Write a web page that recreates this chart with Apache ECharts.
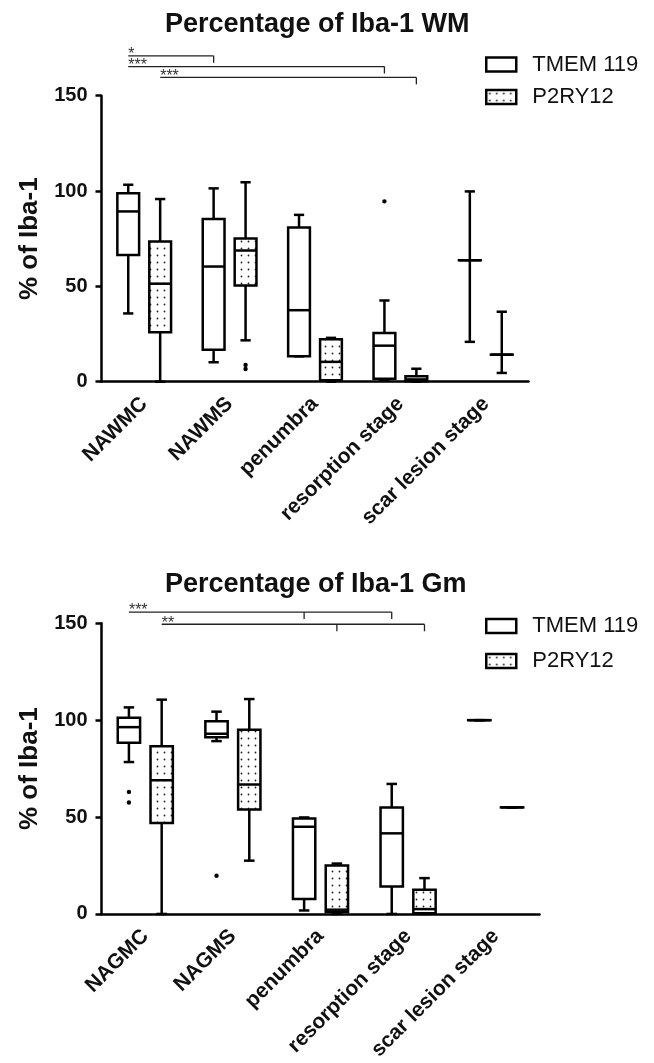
<!DOCTYPE html>
<html><head><meta charset="utf-8">
<script src="https://cdn.jsdelivr.net/npm/echarts@6/dist/echarts.min.js"></script>
<style>html,body{margin:0;padding:0;background:#fff}#c{width:654px;height:1063px}</style>
</head><body><div id="c"></div>
<script>
// ---------------- DATA ----------------
const titles = ['Percentage of Iba-1 WM', 'Percentage of Iba-1 Gm'];
const yAxisName = '% of Iba-1';
const wmCategories = ['NAWMC', 'NAWMS', 'penumbra', 'resorption stage', 'scar lesion stage'];
const gmCategories = ['NAGMC', 'NAGMS', 'penumbra', 'resorption stage', 'scar lesion stage'];
const seriesNames = ['TMEM 119', 'P2RY12'];
const yTicks = [0, 50, 100, 150];

// [category, min, Q1, median, Q3, max]
const wmTMEM = [
  [0, 35.8, 66.5, 89.3, 98.9, 103.3],
  [1, 10.2, 16.8, 60.4, 85.3, 101.4],
  [2, 13.3, 13.3, 37.5, 80.9, 87.5],
  [3, 0.5, 1.6, 18.9, 25.6, 42.6],
  [4, 20.9, 63.7, 63.7, 63.7, 99.8]
];
const wmP2RY12 = [
  [0, 0, 26.0, 51.4, 73.5, 95.8],
  [1, 21.7, 50.5, 68.8, 75.1, 104.6],
  [2, 0, 0.7, 10.4, 22.2, 23.0],
  [3, 0, 0.3, 1.2, 2.8, 6.8],
  [4, 4.6, 14.2, 14.2, 14.2, 36.7]
];
const gmTMEM = [
  [0, 78.4, 88.3, 96.4, 101.3, 106.6],
  [1, 89.2, 91.2, 93.0, 99.4, 104.4],
  [2, 1.8, 7.7, 45.0, 49.3, 49.8],
  [3, 0, 14.2, 41.6, 55.0, 67.1],
  [4, 100, 100, 100, 100, 100]
];
const gmP2RY12 = [
  [0, 0, 47.0, 69.0, 86.6, 110.6],
  [1, 27.5, 53.9, 66.8, 95.0, 110.9],
  [2, 0, 1.0, 2.2, 25.0, 26.0],
  [3, 0, 0.3, 2.5, 12.5, 18.5],
  [4, 55, 55, 55, 55, 55]
];
// outliers [category, value]
const wmOutTMEM = [[3, 94.6]];
const wmOutP2RY12 = [[1, 6.7], [1, 8.8]];
const gmOutTMEM = [[0, 63.0], [0, 57.5], [1, 19.7]];
const gmOutP2RY12 = [];
// significance: [fromCategory, fromSeries, toCategory, toSeries, height, label, midCategory]
const wmSig = [
  [0, 0, 1, 0, 170.9, '*', null],
  [0, 0, 3, 0, 165.3, '***', null],
  [0, 1, 3, 1, 159.6, '***', null]
];
const gmSig = [
  [0, 0, 3, 0, 155.8, '***', 2],
  [0, 1, 3, 1, 149.5, '**', 2]
];

// ---------------- STYLE ----------------
const FONT = 'Liberation Sans, Arial, sans-serif';
const OFFSET = [-0.187, 0.187];
const BOX = 0.255, CAP = 0.12, DROP = 7;

function makePattern() {
  const c = document.createElement('canvas');
  c.width = 7; c.height = 7;
  const g = c.getContext('2d');
  g.fillStyle = '#fff'; g.fillRect(0, 0, 7, 7);
  g.fillStyle = '#222';
  g.beginPath(); g.arc(3.5, 3.5, 0.9, 0, Math.PI * 2); g.fill();
  return { image: c, repeat: 'repeat' };
}
const dots = makePattern();
const fills = ['#fff', dots];

function boxRenderer(k) {
  return function (params, api) {
    const cat = api.value(0);
    const band = api.size([1, 0])[0];
    const cx = api.coord([cat, 0])[0] + OFFSET[k] * band;
    const Y = i => api.coord([cat, api.value(i)])[1];
    const yMin = Y(1), yQ1 = Y(2), yMed = Y(3), yQ3 = Y(4), yMax = Y(5);
    const w = BOX * band, c = CAP * band;
    const ls = { stroke: '#000', lineWidth: 2.5 };
    return { type: 'group', children: [
      { type: 'line', shape: { x1: cx, y1: yQ3, x2: cx, y2: yMax }, style: ls },
      { type: 'line', shape: { x1: cx - c / 2, y1: yMax, x2: cx + c / 2, y2: yMax }, style: ls },
      { type: 'line', shape: { x1: cx, y1: yQ1, x2: cx, y2: yMin }, style: ls },
      { type: 'line', shape: { x1: cx - c / 2, y1: yMin, x2: cx + c / 2, y2: yMin }, style: ls },
      { type: 'rect', shape: { x: cx - w / 2, y: yQ3, width: w, height: Math.max(yQ1 - yQ3, 0.01) },
        style: { fill: fills[k], stroke: '#000', lineWidth: 2.5 } },
      { type: 'line', shape: { x1: cx - w / 2, y1: yMed, x2: cx + w / 2, y2: yMed }, style: ls }
    ]};
  };
}
function outlierRenderer(k) {
  return function (params, api) {
    const band = api.size([1, 0])[0];
    const p = api.coord([api.value(0), api.value(1)]);
    return { type: 'circle', shape: { cx: p[0] + OFFSET[k] * band, cy: p[1], r: 2.2 }, style: { fill: '#000' } };
  };
}
function sigRenderer(sig) {
  return function (params, api) {
    const s = sig[params.dataIndex];
    const band = api.size([1, 0])[0];
    const X = (cat, k) => api.coord([cat, 0])[0] + OFFSET[k] * band;
    const y = api.coord([0, s[4]])[1];
    const x1 = X(s[0], s[1]), x2 = X(s[2], s[3]);
    const ls = { stroke: '#222', lineWidth: 1.3 };
    const children = [
      { type: 'line', shape: { x1: x1, y1: y, x2: x2, y2: y }, style: ls },
      { type: 'line', shape: { x1: x2, y1: y, x2: x2, y2: y + DROP }, style: ls },
      { type: 'text', style: { text: s[5], x: x1, y: y - 1, align: 'left', verticalAlign: 'middle',
        font: '16px ' + FONT, fill: '#333' } }
    ];
    if (s[6] !== null) {
      const xm = X(s[6], s[1]);
      children.push({ type: 'line', shape: { x1: xm, y1: y, x2: xm, y2: y + DROP }, style: ls });
    }
    return { type: 'group', children: children };
  };
}

function seriesFor(gi, tmem, p2, outT, outP, sig) {
  const enc5 = { x: 0, y: [1, 2, 3, 4, 5] };
  return [
    { type: 'custom', name: seriesNames[0], xAxisIndex: gi, yAxisIndex: gi, data: tmem, encode: enc5, renderItem: boxRenderer(0) },
    { type: 'custom', name: seriesNames[1], xAxisIndex: gi, yAxisIndex: gi, data: p2, encode: enc5, renderItem: boxRenderer(1) },
    { type: 'custom', name: 'out0', xAxisIndex: gi, yAxisIndex: gi, data: outT, encode: { x: 0, y: 1 }, renderItem: outlierRenderer(0) },
    { type: 'custom', name: 'out1', xAxisIndex: gi, yAxisIndex: gi, data: outP, encode: { x: 0, y: 1 }, renderItem: outlierRenderer(1) },
    { type: 'custom', name: 'sig', xAxisIndex: gi, yAxisIndex: gi, data: sig.map(s => [s[0], s[4]]), encode: { x: 0, y: 1 }, renderItem: sigRenderer(sig), clip: false }
  ];
}

function xAxisFor(gi, cats) {
  return {
    gridIndex: gi, type: 'category', data: cats, boundaryGap: true,
    axisLine: { lineStyle: { color: '#000', width: 2.5 } },
    axisTick: { alignWithLabel: true, length: 6, lineStyle: { color: '#000', width: 2.5 } },
    axisLabel: { rotate: 45, interval: 0, margin: 19, fontSize: 21, fontWeight: 'bold', color: '#111', fontFamily: FONT }
  };
}
function yAxisFor(gi) {
  return {
    gridIndex: gi, type: 'value', min: 0, max: 150, interval: 50,
    name: yAxisName, nameLocation: 'middle', nameGap: 56,
    nameTextStyle: { fontSize: 26, fontWeight: 'bold', color: '#111', fontFamily: FONT },
    axisLine: { show: true, lineStyle: { color: '#000', width: 2.5 } },
    axisTick: { show: true, length: 6, customValues: yTicks, lineStyle: { color: '#000', width: 2.5 } },
    splitLine: { show: false },
    axisLabel: { margin: 14, customValues: yTicks, fontSize: 20, fontWeight: 'bold', color: '#111', fontFamily: FONT }
  };
}
function legendFor(top, gap) {
  return {
    orient: 'vertical', left: 480, top: top, itemWidth: 30, itemHeight: 14, itemGap: gap,
    selectedMode: false,
    data: [
      { name: seriesNames[0], icon: 'rect', itemStyle: { color: '#fff', borderColor: '#000', borderWidth: 2.5 } },
      { name: seriesNames[1], icon: 'rect', itemStyle: { color: dots, borderColor: '#000', borderWidth: 2.5 } }
    ],
    textStyle: { fontSize: 22, color: '#111', fontFamily: FONT, padding: [0, 0, 0, 11] }
  };
}

const chart = echarts.init(document.getElementById('c'), null, { renderer: 'canvas' });
chart.setOption({
  backgroundColor: '#fff',
  animation: false,
  title: [
    { text: titles[0], left: 160, top: 6, textStyle: { fontSize: 27, fontWeight: 'bold', color: '#111', fontFamily: FONT } },
    { text: titles[1], left: 160, top: 566, textStyle: { fontSize: 27, fontWeight: 'bold', color: '#111', fontFamily: FONT } }
  ],
  legend: [legendFor(48.5, 10.5), legendFor(610, 13)],
  grid: [
    { left: 101.5, top: 95.7, width: 427, height: 286 },
    { left: 101.5, top: 623.3, width: 438, height: 291 }
  ],
  xAxis: [xAxisFor(0, wmCategories), xAxisFor(1, gmCategories)],
  yAxis: [yAxisFor(0), yAxisFor(1)],
  series: [].concat(
    seriesFor(0, wmTMEM, wmP2RY12, wmOutTMEM, wmOutP2RY12, wmSig),
    seriesFor(1, gmTMEM, gmP2RY12, gmOutTMEM, gmOutP2RY12, gmSig)
  )
});
</script></body></html>
